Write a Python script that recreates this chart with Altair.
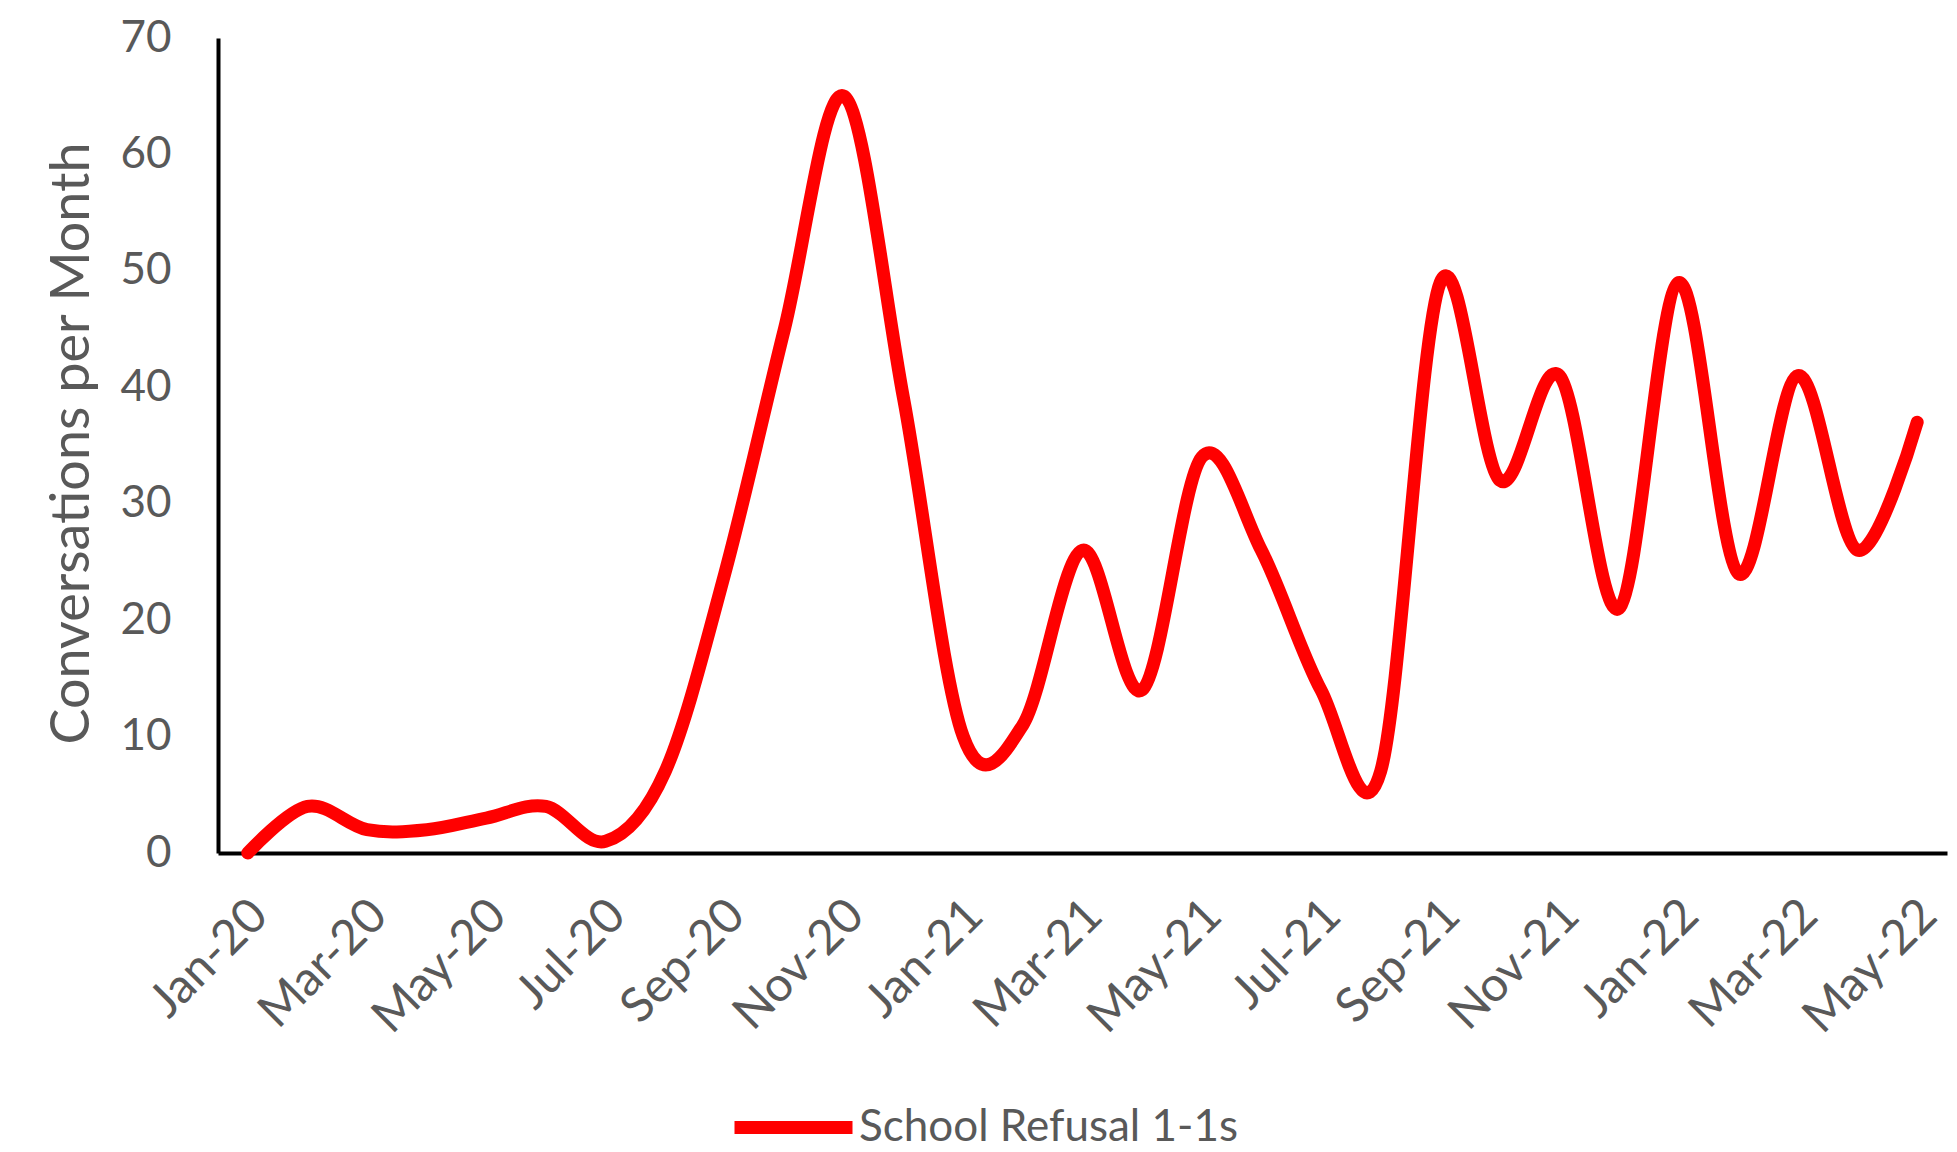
import altair as alt
import pandas as pd

months = ["Jan-20", "Feb-20", "Mar-20", "Apr-20", "May-20", "Jun-20", "Jul-20",
          "Aug-20", "Sep-20", "Oct-20", "Nov-20", "Dec-20",
          "Jan-21", "Feb-21", "Mar-21", "Apr-21", "May-21", "Jun-21", "Jul-21",
          "Aug-21", "Sep-21", "Oct-21", "Nov-21", "Dec-21",
          "Jan-22", "Feb-22", "Mar-22", "Apr-22", "May-22"]
conversations = [0, 4, 2, 2, 3, 4, 1, 7, 24, 45, 65, 39,
                 10, 11, 26, 14, 34, 26, 14, 7, 49, 32, 41, 21,
                 49, 24, 41, 26, 37]
label_months = ["Jan-20", "Mar-20", "May-20", "Jul-20", "Sep-20", "Nov-20",
                "Jan-21", "Mar-21", "May-21", "Jul-21", "Sep-21", "Nov-21",
                "Jan-22", "Mar-22", "May-22"]
y_ticks = [0, 10, 20, 30, 40, 50, 60, 70]
series_name = "School Refusal 1-1s"

df = pd.DataFrame({"month": months, "value": conversations, "series": series_name})

FONT = "Lato"
GRAY = "#595959"

chart = alt.Chart(df).mark_line(
    interpolate="cardinal", tension=0, strokeWidth=13, strokeCap="round", strokeJoin="round"
).encode(
    x=alt.X("month:O", sort=months,
            scale=alt.Scale(type="point", padding=0.5),
            axis=alt.Axis(values=label_months, labelAngle=-45, title=None, ticks=False,
                          labelPadding=38, labelOffset=-5, domainColor="black", domainWidth=4,
                          labelFont=FONT, labelFontSize=48, labelColor=GRAY, grid=False)),
    y=alt.Y("value:Q", scale=alt.Scale(domain=[0, 70], nice=False),
            axis=alt.Axis(values=y_ticks, ticks=False, labelPadding=47,
                          domainColor="black", domainWidth=4, grid=False,
                          labelFont=FONT, labelFontSize=44, labelColor=GRAY,
                          title="Conversations per Month", titleFont=FONT, titleFontSize=54,
                          titleColor=GRAY, titleFontWeight="normal",
                          titleX=-130, titleY=405, titleAngle=-90,
                          titleAlign="center", titleBaseline="alphabetic")),
    color=alt.Color("series:N",
                    scale=alt.Scale(domain=[series_name], range=["#FF0000"]),
                    legend=alt.Legend(title=None, orient="none", legendX=510, legendY=1024,
                                      symbolType="stroke", symbolSize=13924,
                                      symbolStrokeWidth=13, labelFont=FONT,
                                      labelFontSize=44, labelColor=GRAY, labelOffset=0,
                                      labelLimit=0))
).properties(
    width=1729, height=815,
    padding={"left": 218, "top": 38, "right": 10, "bottom": 299},
    autosize=alt.AutoSizeParams(type="none")
).configure_view(stroke=None)

chart.save("out.html", embed_options={"renderer": "svg", "actions": False})
